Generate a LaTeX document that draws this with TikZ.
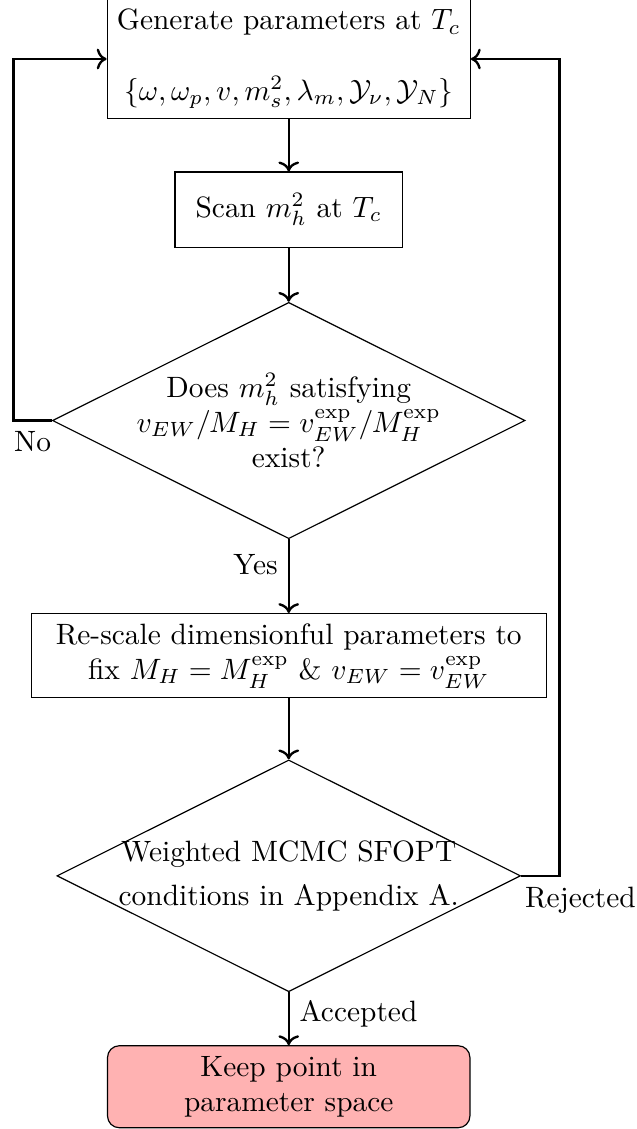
\documentclass[tikz,border=0pt]{standalone}
\usepackage{amsmath, amssymb}
\usepackage{tikz}
\usetikzlibrary{positioning, arrows.meta, shapes.geometric}
\tikzstyle{process} = [draw, rectangle, align=center]
\tikzstyle{decision} = [draw, diamond, aspect=2, inner sep=0pt, align=center]
\tikzstyle{arrow} = [thick, ->]

\begin{document}
\begin{tikzpicture}
    \useasboundingbox (-3.45,0.705) rectangle (4.15,-12.785);
    % Parameter scan flowchart
    \node[process, minimum width=4.33cm] (gen) at (0,0) {Generate parameters at $T_c$\\[12pt] $\{\omega,\omega_p,v,m_s^2,\lambda_m,\mathcal{Y}_\nu,\mathcal{Y}_N\}$};
    \node[process, minimum width=2.72cm, minimum height=0.9cm] (scan) at (0,-1.8) {Scan $m_h^2$ at $T_c$};
    \node[decision, inner sep=-1.2pt] (exist) at (0,-4.32) {Does $m_h^2$ satisfying\\ $v_{EW}/M_H=v_{EW}^{\text{exp}}/M_H^{\text{exp}}$\\ exist?};
    \node[process, minimum width=6.15cm] (rescale) at (0,-7.13) {Re-scale dimensionful parameters to\\ fix $M_H=M_H^{\text{exp}}$ \& $v_{EW}=v_{EW}^{\text{exp}}$};
    \node[decision, inner sep=-1pt] (sfopt) at (0,-9.76) {Weighted MCMC SFOPT\\[3pt] conditions in Appendix A.};
    \node[process, rounded corners, fill=red!30, minimum width=4.33cm, minimum height=0.98cm] (keep) at (0,-12.28) {Keep point in\\ parameter space};

    \draw[arrow] (gen) -- (scan);
    \draw[arrow] (scan) -- (exist);
    \draw[arrow] (exist) -- node[pos=0.35, left] {Yes} (rescale);
    \draw[arrow] (rescale) -- (sfopt);
    \draw[arrow] (sfopt) -- node[pos=0.4, right] {Accepted} (keep);
    \draw[arrow] (exist.west) -- node[below] {No} ++(-0.46,0) |- (gen.west);
    \draw[arrow] (sfopt.east) -- node[pos=0, below right, xshift=-2.4pt] {Rejected} ++(0.46,0) |- (gen.east);
\end{tikzpicture}
\end{document}
